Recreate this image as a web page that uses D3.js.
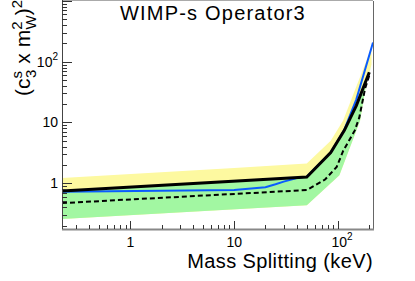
<!DOCTYPE html>
<html>
<head>
<meta charset="utf-8">
<script src="https://cdn.jsdelivr.net/npm/d3@7"></script>
<style>
    body { margin: 0; background: #fff; }
    text { font-family: "Liberation Sans", Arial, Helvetica, sans-serif; fill: #000; }
</style>
</head>
<body>
<div id="vis"></div>
<script>
const width = 415;
const height = 281;
const margin = { left: 62, top: 1, right: 42, bottom: 52 };

const title = "WIMP-s Operator3";
const xTitle = "Mass Splitting (keV)";

// axis ranges and ticks
const xDomain = [0.22, 217];
const yDomain = [0.176, 1000];
const xMajor = [1, 10, 100];
const xMinor = [0.3, 0.4, 0.5, 0.6, 0.7, 0.8, 0.9, 2, 3, 4, 5, 6, 7, 8, 9, 20, 30, 40, 50, 60, 70, 80, 90, 200];
const yMajor = [1, 10, 100, 1000];
const yMinor = [0.2, 0.3, 0.4, 0.5, 0.6, 0.7, 0.8, 0.9, 2, 3, 4, 5, 6, 7, 8, 9,
                20, 30, 40, 50, 60, 70, 80, 90, 200, 300, 400, 500, 600, 700, 800, 900];
const xLabels = [{ v: 1, base: "1", sup: "" }, { v: 10, base: "10", sup: "" }, { v: 100, base: "10", sup: "2" }];
const yLabels = [{ v: 1, base: "1", sup: "" }, { v: 10, base: "10", sup: "" }, { v: 100, base: "10", sup: "2" }];

// yellow band (upper edge) and green band (upper / lower edges)
const yellowX = [0.22, 10, 50, 85, 112, 150, 210];
const yellowHi = [1.22, 1.78, 2.1, 5.0, 10.8, 39, 170];
const greenX = [0.22, 50, 103, 150, 163, 189, 210];
const greenLo = [0.257, 0.435, 1.35, 7.4, 10.8, 49, 90];
const greenHiX = [0.22, 50, 85, 115, 150, 200, 210];
const greenHi = [0.76, 1.22, 3.0, 7.0, 19, 66, 90];

// expected (dashed), observed (thick black), blue curve
const expX = [0.22, 50, 75, 97, 112, 145, 160, 182, 200];
const expY = [0.47, 0.77, 1.15, 1.85, 3.4, 7.4, 12, 36, 60];
const obsX = [0.22, 50, 85, 115, 150, 200];
const obsY = [0.74, 1.26, 3.2, 7.4, 19, 67];
const blueX = [0.22, 10, 20, 25, 30, 40, 50, 85, 115, 150, 217];
const blueY = [0.72, 0.77, 0.86, 0.96, 1.06, 1.22, 1.28, 3.2, 7.6, 24, 207];

const yellow = "#fdf9a0";
const green = "#a2f7a2";
const blue = "#0a5cff";

const svg = d3.select("#vis")
    .append("svg")
    .attr("width", width)
    .attr("height", height)
    .attr("viewBox", `0 0 ${width} ${height}`);

const xScale = d3.scaleLog()
    .domain(xDomain)
    .range([margin.left, width - margin.right]);

const yScale = d3.scaleLog()
    .domain(yDomain)
    .range([height - margin.bottom, margin.top]);

svg.append("clipPath")
    .attr("id", "plot-clip")
    .append("rect")
        .attr("x", margin.left)
        .attr("y", margin.top)
        .attr("width", width - margin.right - margin.left)
        .attr("height", height - margin.bottom - margin.top);

const plot = svg.append("g").attr("clip-path", "url(#plot-clip)");

const line = d3.line()
    .x(d => xScale(d[0]))
    .y(d => yScale(d[1]));

const zip = (xs, ys) => xs.map((x, i) => [x, ys[i]]);

// yellow: from its upper edge down to the green lower edge
const yellowPoly = zip(yellowX, yellowHi).concat(zip(greenX, greenLo).reverse());
plot.append("path")
    .attr("d", line(yellowPoly) + "Z")
    .attr("fill", yellow);

const greenPoly = zip(greenHiX, greenHi).concat(zip(greenX, greenLo).reverse());
plot.append("path")
    .attr("d", line(greenPoly) + "Z")
    .attr("fill", green);

plot.append("path")
    .attr("d", line(zip(blueX, blueY)))
    .attr("fill", "none")
    .attr("stroke", blue)
    .attr("stroke-width", 2);

plot.append("path")
    .attr("d", line(zip(expX, expY)))
    .attr("fill", "none")
    .attr("stroke", "#000")
    .attr("stroke-width", 2)
    .attr("stroke-dasharray", "5,3");

plot.append("path")
    .attr("d", line(zip(obsX, obsY)))
    .attr("fill", "none")
    .attr("stroke", "#000")
    .attr("stroke-width", 3);

// frame
const x0 = margin.left, x1 = width - margin.right;
const y0 = margin.top, y1 = height - margin.bottom;

svg.append("line").attr("x1", x0).attr("x2", x1).attr("y1", y0 - 0.5).attr("y2", y0 - 0.5)
    .attr("stroke", "#aaa").attr("stroke-width", 1);
svg.append("line").attr("x1", x1 + 0.5).attr("x2", x1 + 0.5).attr("y1", y0).attr("y2", y1)
    .attr("stroke", "#666").attr("stroke-width", 1);
svg.append("line").attr("x1", x0).attr("x2", x1 + 1).attr("y1", y1 + 0.5).attr("y2", y1 + 0.5)
    .attr("stroke", "#888").attr("stroke-width", 2);
svg.append("line").attr("x1", x0 + 0.5).attr("x2", x0 + 0.5).attr("y1", y0 - 1).attr("y2", y1)
    .attr("stroke", "#444").attr("stroke-width", 1);

// ticks
const xAxis = svg.append("g").attr("class", "x-axis");
xAxis.selectAll(".tick-major")
    .data(xMajor)
    .join("line")
        .attr("class", "tick-major")
        .attr("x1", d => Math.round(xScale(d)) + 0.5)
        .attr("x2", d => Math.round(xScale(d)) + 0.5)
        .attr("y1", y1)
        .attr("y2", y1 - 8)
        .attr("stroke", "#333");
xAxis.selectAll(".tick-minor")
    .data(xMinor)
    .join("line")
        .attr("class", "tick-minor")
        .attr("x1", d => Math.round(xScale(d)) + 0.5)
        .attr("x2", d => Math.round(xScale(d)) + 0.5)
        .attr("y1", y1)
        .attr("y2", y1 - 4)
        .attr("stroke", "#333");

const yAxis = svg.append("g").attr("class", "y-axis");
yAxis.selectAll(".tick-major")
    .data(yMajor)
    .join("line")
        .attr("class", "tick-major")
        .attr("x1", x0)
        .attr("x2", x0 + 10)
        .attr("y1", d => Math.round(yScale(d)) + 0.5)
        .attr("y2", d => Math.round(yScale(d)) + 0.5)
        .attr("stroke", "#333");
yAxis.selectAll(".tick-minor")
    .data(yMinor)
    .join("line")
        .attr("class", "tick-minor")
        .attr("x1", x0)
        .attr("x2", x0 + 5)
        .attr("y1", d => Math.round(yScale(d)) + 0.5)
        .attr("y2", d => Math.round(yScale(d)) + 0.5)
        .attr("stroke", "#333");

// tick labels
const xText = xAxis.selectAll(".tick-label")
    .data(xLabels)
    .join("text")
        .attr("class", "tick-label")
        .attr("text-anchor", "middle")
        .attr("x", d => xScale(d.v) + (d.sup ? 4 : 0))
        .attr("y", 247)
        .style("font-size", "14px");
xText.append("tspan").text(d => d.base);
xText.filter(d => d.sup).append("tspan")
    .attr("dy", -7)
    .style("font-size", "10px")
    .text(d => d.sup);

const yText = yAxis.selectAll(".tick-label")
    .data(yLabels)
    .join("text")
        .attr("class", "tick-label")
        .attr("text-anchor", "end")
        .attr("x", 58)
        .attr("y", d => yScale(d.v) + 5)
        .style("font-size", "14px");
yText.append("tspan").text(d => d.base);
yText.filter(d => d.sup).append("tspan")
    .attr("dy", -7)
    .style("font-size", "10px")
    .text(d => d.sup);

// titles
svg.append("text")
    .attr("x", 120)
    .attr("y", 20)
    .style("font-size", "20px")
    .style("letter-spacing", "1.2px")
    .text(title);

svg.append("text")
    .attr("text-anchor", "end")
    .attr("x", x1)
    .attr("y", 268)
    .style("font-size", "20px")
    .style("letter-spacing", "0.4px")
    .text(xTitle);

const yTitle = svg.append("text")
    .attr("text-anchor", "end")
    .attr("transform", "translate(30, 0) rotate(-90)")
    .attr("x", 0)
    .attr("y", 0)
    .style("font-size", "21px");
yTitle.append("tspan").text("(c");
yTitle.append("tspan").attr("dy", -8).style("font-size", "15px").text("s");
yTitle.append("tspan").attr("dx", -7).attr("dy", 14).style("font-size", "15px").text("3");
yTitle.append("tspan").attr("dy", -6).text(" x m");
yTitle.append("tspan").attr("dy", -8).style("font-size", "15px").text("2");
yTitle.append("tspan").attr("dx", -8).attr("dy", 14).style("font-size", "15px").text("W");
yTitle.append("tspan").attr("dy", -6).text(")");
yTitle.append("tspan").attr("dy", -8).style("font-size", "15px").text("2");
</script>
</body>
</html>
